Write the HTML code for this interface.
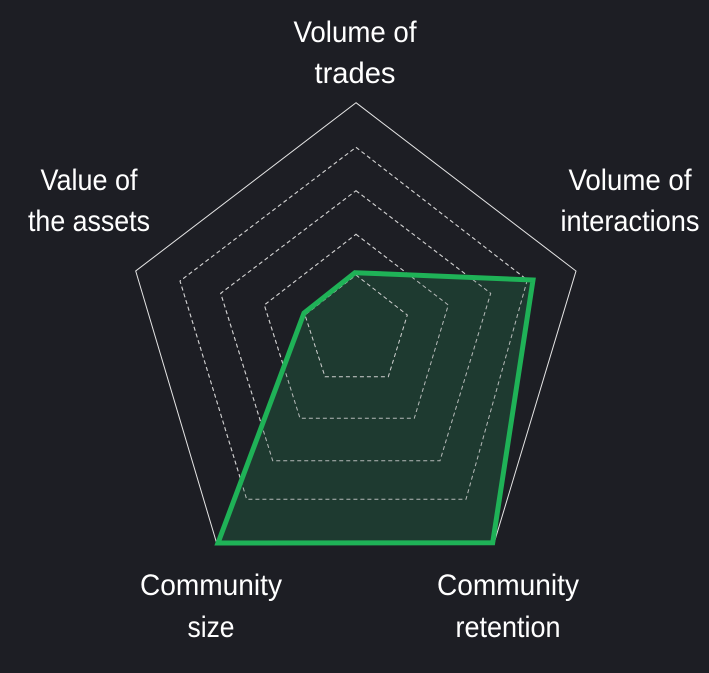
<!DOCTYPE html>
<html><head><meta charset="utf-8"><style>
html,body{margin:0;padding:0;background:#1d1e24;}
svg{display:block;}
text{font-family:"Liberation Sans",sans-serif;font-size:30px;fill:#ffffff;text-anchor:middle;}
</style></head><body>
<svg width="709" height="673" viewBox="0 0 709 673" xmlns="http://www.w3.org/2000/svg">
<rect width="709" height="673" fill="#1d1e24"/>
<polygon points="356,102.7 576,271 494,543.3 216.7,543.3 135.7,271" fill="none" stroke="#e6e6e6" stroke-width="1"/>
<g fill="none" stroke="#d0d0d0" stroke-width="1" stroke-dasharray="4,3">
<polygon points="356,147.3 527.3,280 466,499.3 246.7,499.3 180,281"/>
<polygon points="356,190.7 490.7,293.3 440,460.7 272.7,460.7 220.7,293.3"/>
<polygon points="356,234.3 448.3,305 414.3,418.3 300,418.3 264.3,305"/>
</g>
<polygon points="355,272.7 533,280 492.7,542.7 218,543 304,313" fill="#1e3a30" stroke="none"/>
<polygon points="356,275 407.3,315 388.3,376.7 325,376.7 305,315" fill="none" stroke="#d0d0d0" stroke-width="1" stroke-dasharray="4,3"/>
<g fill="none" stroke="#d0d0d0" stroke-width="1" stroke-dasharray="4,3" opacity="0.85">
<polygon points="356,147.3 527.3,280 466,499.3 246.7,499.3 180,281"/>
<polygon points="356,190.7 490.7,293.3 440,460.7 272.7,460.7 220.7,293.3"/>
<polygon points="356,234.3 448.3,305 414.3,418.3 300,418.3 264.3,305"/>
</g>
<polygon points="355,272.7 533,280 492.7,542.7 218,543 304,313" fill="none" stroke="#1fb257" stroke-width="5" stroke-linejoin="miter"/>
<text x="355" y="42" textLength="123" lengthAdjust="spacingAndGlyphs">Volume of</text>
<text x="355" y="83" textLength="81" lengthAdjust="spacingAndGlyphs">trades</text>
<text x="89" y="190" textLength="97" lengthAdjust="spacingAndGlyphs">Value of</text>
<text x="89" y="231" textLength="122" lengthAdjust="spacingAndGlyphs">the assets</text>
<text x="630" y="190" textLength="123" lengthAdjust="spacingAndGlyphs">Volume of</text>
<text x="630" y="231" textLength="139" lengthAdjust="spacingAndGlyphs">interactions</text>
<text x="211" y="595" textLength="142" lengthAdjust="spacingAndGlyphs">Community</text>
<text x="211" y="637" textLength="47" lengthAdjust="spacingAndGlyphs">size</text>
<text x="508" y="595" textLength="142" lengthAdjust="spacingAndGlyphs">Community</text>
<text x="508" y="637" textLength="105" lengthAdjust="spacingAndGlyphs">retention</text>
</svg>
</body></html>
